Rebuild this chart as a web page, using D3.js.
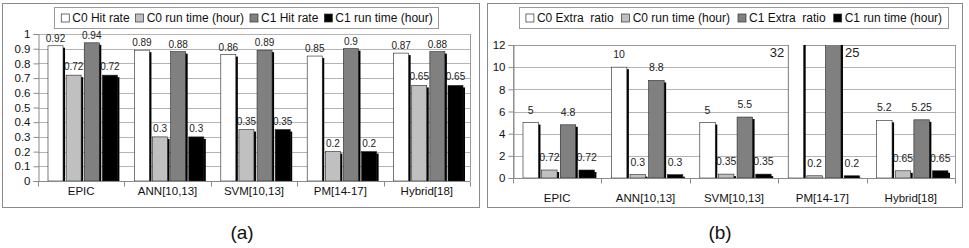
<!DOCTYPE html>
<html>
<head>
<meta charset="utf-8">
<script src="https://cdn.jsdelivr.net/npm/d3@7"></script>
<style>
  body { margin: 0; background: #fff; }
  svg { display: block; font-family: "Liberation Sans", Arial, sans-serif; }
</style>
</head>
<body>
<div id="container"></div>
<script>
var width = 969;
var height = 248;

// categories and series
var categories = ["EPIC", "ANN[10,13]", "SVM[10,13]", "PM[14-17]", "Hybrid[18]"];
var seriesA = ["C0 Hit rate", "C0 run time (hour)", "C1 Hit rate", "C1 run time (hour)"];
var seriesB = ["C0 Extra  ratio", "C0 run time (hour)", "C1 Extra  ratio", "C1 run time (hour)"];

// panel (a)
var c0HitRate = [0.92, 0.89, 0.86, 0.85, 0.87];
var c0RunTime = [0.72, 0.3, 0.35, 0.2, 0.65];
var c1HitRate = [0.94, 0.88, 0.89, 0.9, 0.88];
var c1RunTime = [0.72, 0.3, 0.35, 0.2, 0.65];
// panel (b)
var c0Extra = [5, 10, 5, 32, 5.2];
var c1Extra = [4.8, 8.8, 5.5, 25, 5.25];

var ticksA = [0, 0.1, 0.2, 0.3, 0.4, 0.5, 0.6, 0.7, 0.8, 0.9, 1];
var ticksB = [0, 2, 4, 6, 8, 10, 12];

var colors = ["#ffffff", "#c0c0c0", "#808080", "#000000"];

var svg = d3.select('#container').append('svg')
  .attr('width', width).attr('height', height);

function panel(cfg){
  var g = svg.append('g');

  // outer frame
  g.append('rect')
    .attr('x', cfg.frame[0] + 0.5).attr('y', 3.5)
    .attr('width', cfg.frame[1] - cfg.frame[0]).attr('height', 204)
    .attr('fill', 'none').attr('stroke', '#8a8a8a').attr('stroke-width', 1);

  var x = d3.scaleBand().domain(categories).range([cfg.x0, cfg.x1]);
  var xs = d3.scaleBand().domain(d3.range(4))
    .range([cfg.inset, x.bandwidth() - cfg.inset + 3]).paddingInner(0.17);
  var y = d3.scaleLinear().domain([0, cfg.max]).range([cfg.y0, cfg.y1]);

  var clipId = 'clip' + cfg.name;
  g.append('clipPath').attr('id', clipId).append('rect')
    .attr('x', cfg.x0).attr('y', cfg.y1).attr('width', cfg.x1 - cfg.x0).attr('height', cfg.y0 - cfg.y1);

  // gridlines
  g.append('g').selectAll('line')
    .data(cfg.ticks.filter(function(d){ return d > 0; }))
    .enter().append('line')
    .attr('x1', cfg.x0).attr('x2', cfg.x1)
    .attr('y1', function(d){ return Math.round(y(d)) + 0.5; })
    .attr('y2', function(d){ return Math.round(y(d)) + 0.5; })
    .attr('stroke', '#b4b4b4');
  if(cfg.border){
    g.append('rect')
      .attr('x', cfg.x0 + 0.5).attr('y', cfg.y1 + 0.5)
      .attr('width', cfg.x1 - cfg.x0).attr('height', cfg.y0 - cfg.y1)
      .attr('fill', 'none').attr('stroke', '#9a9a9a');
  } else {
    g.append('line').attr('x1', cfg.x1 + 0.5).attr('x2', cfg.x1 + 0.5)
      .attr('y1', cfg.y1).attr('y2', cfg.y0).attr('stroke', '#9a9a9a');
  }

  // flatten values
  var rows = [];
  cfg.values.forEach(function(vals, s){
    vals.forEach(function(v, i){ rows.push({s: s, cat: categories[i], v: v}); });
  });

  // value labels (behind bars)
  g.append('g').selectAll('text')
    .data(rows).enter().append('text')
    .attr('font-size', function(d){ return d.v > cfg.max ? 13 : cfg.labelSize; })
    .attr('fill', '#222')
    .attr('text-anchor', function(d){
      if(d.v > cfg.max) return d.s == 0 ? 'end' : 'start';
      return 'middle';
    })
    .attr('x', function(d){
      var bx = x(d.cat) + xs(d.s);
      if(d.v > cfg.max) return d.s == 0 ? bx - 4 : bx + xs.bandwidth() + 4;
      return bx + xs.bandwidth() / 2;
    })
    .attr('y', function(d){
      if(d.v > cfg.max) return cfg.y1 + 12;
      return y(d.v) - cfg.labelDy[d.s];
    })
    .text(function(d){ return d.v; });

  // bars with shadow
  var bars = g.append('g').attr('clip-path', 'url(#' + clipId + ')');
  bars.selectAll('rect.shadow')
    .data(rows).enter().append('rect')
    .attr('class', 'shadow')
    .attr('x', function(d){ return x(d.cat) + xs(d.s) + 2; })
    .attr('y', function(d){ return y(Math.min(d.v, cfg.max * 1.1)) + 2; })
    .attr('width', xs.bandwidth())
    .attr('height', function(d){ return cfg.y0 - y(Math.min(d.v, cfg.max * 1.1)); })
    .attr('fill', '#000');
  bars.selectAll('rect.bar')
    .data(rows).enter().append('rect')
    .attr('class', 'bar')
    .attr('x', function(d){ return x(d.cat) + xs(d.s); })
    .attr('y', function(d){ return y(Math.min(d.v, cfg.max * 1.1)); })
    .attr('width', xs.bandwidth())
    .attr('height', function(d){ return cfg.y0 - y(Math.min(d.v, cfg.max * 1.1)); })
    .attr('fill', function(d){ return colors[d.s]; })
    .attr('stroke', '#222').attr('stroke-width', 0.6);

  // y axis
  var ya = g.append('g').attr('transform', 'translate(' + (cfg.x0 + 0.5) + ',0)')
    .call(d3.axisLeft(y).tickValues(cfg.ticks).tickSize(5).tickPadding(3)
      .tickFormat(function(d){ return d; }));
  ya.select('.domain').attr('stroke', '#8a8a8a');
  ya.selectAll('.tick line').attr('stroke', '#8a8a8a');
  ya.selectAll('text').attr('font-size', 11.5).attr('fill', '#111')
    .attr('font-family', '"Liberation Sans", Arial, sans-serif');

  // x axis
  var xa = g.append('g').attr('transform', 'translate(0,' + (cfg.y0 + 0.5) + ')');
  xa.append('line').attr('x1', cfg.x0).attr('x2', cfg.x1).attr('stroke', '#8a8a8a');
  xa.selectAll('line.tk')
    .data(categories.concat(['end'])).enter().append('line')
    .attr('class', 'tk')
    .attr('x1', function(d, i){ return Math.round(cfg.x0 + i * x.step()) + 0.5; })
    .attr('x2', function(d, i){ return Math.round(cfg.x0 + i * x.step()) + 0.5; })
    .attr('y1', 0).attr('y2', 5).attr('stroke', '#8a8a8a');
  xa.selectAll('text.xl')
    .data(categories).enter().append('text')
    .attr('class', 'xl')
    .attr('x', function(d){ return x(d) + x.bandwidth() / 2; })
    .attr('y', cfg.xLabelDy)
    .attr('text-anchor', 'middle').attr('font-size', 11.5).attr('fill', '#111')
    .text(function(d){ return d; });

  // legend
  var lg = g.append('g');
  var box = lg.append('rect').attr('fill', '#fff').attr('stroke', '#9a9a9a');
  var cx = 0;
  var items = lg.selectAll('g').data(cfg.series).enter().append('g');
  var offs = [];
  items.each(function(d, i){
    var it = d3.select(this);
    it.append('rect').attr('width', 8).attr('height', 8).attr('y', -8)
      .attr('fill', colors[i]).attr('stroke', '#333').attr('stroke-width', 0.7);
    var t = it.append('text').attr('x', 11).attr('font-size', 12).attr('fill', '#111')
      .style('white-space', 'pre').text(d);
    offs.push(cx);
    cx += 11 + t.node().getComputedTextLength() + cfg.legendGap;
  });
  var lw = cx - cfg.legendGap;
  var lx = cfg.legendCenter - lw / 2;
  items.attr('transform', function(d, i){ return 'translate(' + (lx + offs[i]) + ',22)'; });
  box.attr('x', Math.round(lx - 7) + 0.5).attr('y', 7.5)
    .attr('width', Math.round(lw + 13)).attr('height', 21);

  // caption
  g.append('text').attr('x', cfg.captionX).attr('y', 239)
    .attr('text-anchor', 'middle').attr('font-size', 19).attr('fill', '#111')
    .text(cfg.caption);
}

panel({
  name: 'a', frame: [2, 479], x0: 38, x1: 470, y0: 181, y1: 34, max: 1,
  ticks: ticksA, series: seriesA,
  values: [c0HitRate, c0RunTime, c1HitRate, c1RunTime],
  inset: 10, labelSize: 10, labelDy: [4, 5, 4, 5], xLabelDy: 13,
  legendCenter: 247, legendGap: 6, border: false,
  caption: '(a)', captionX: 242
});

panel({
  name: 'b', frame: [487, 962], x0: 513, x1: 955, y0: 178, y1: 45, max: 12,
  ticks: ticksB, series: seriesB,
  values: [c0Extra, c0RunTime, c1Extra, c1RunTime],
  inset: 10, labelSize: 10.5, labelDy: [9, 9, 9, 9], xLabelDy: 23,
  legendCenter: 734, legendGap: 8, border: true,
  caption: '(b)', captionX: 720
});
</script>
</body>
</html>
